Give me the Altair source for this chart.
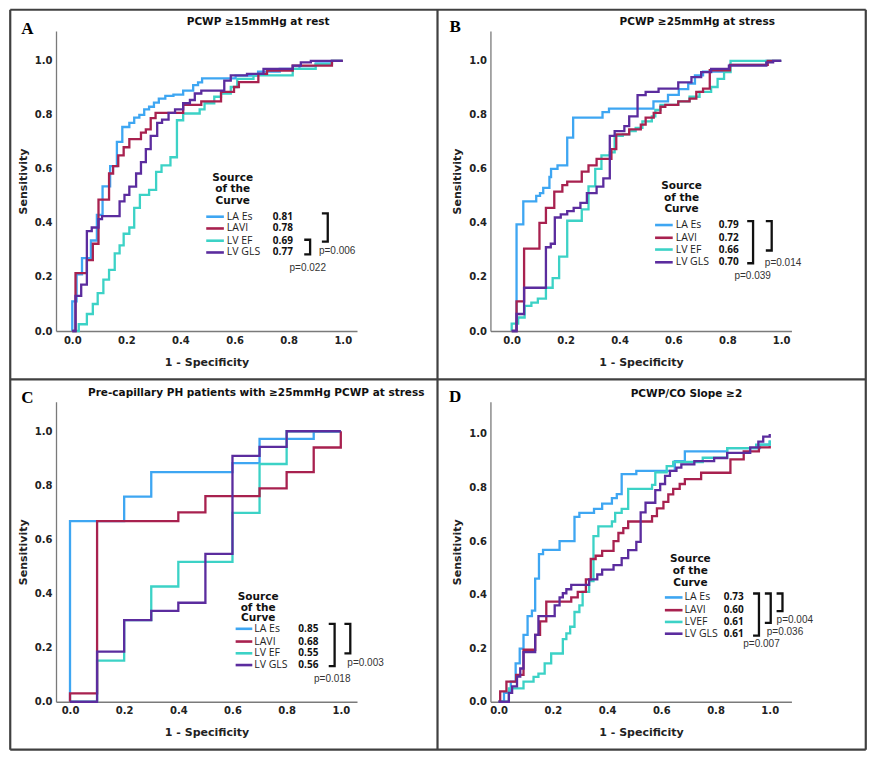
import altair as alt
import pandas as pd

# ---------------- data ----------------
SERIES = ["LA Es", "LAVI", "LV EF", "LV GLS"]
COLORS = ["#3ea6f2", "#a8214f", "#3cd2c6", "#5b2c9e"]
DRAW_ORDER = ["LA Es", "LV EF", "LAVI", "LV GLS"]
TICKS = [0.0, 0.2, 0.4, 0.6, 0.8, 1.0]

# Panel A : PCWP >=15 at rest
A_LAES_X = [0, 0, 0.016, 0.036, 0.069, 0.091, 0.112, 0.14, 0.165, 0.185, 0.211, 0.229, 0.248, 0.266, 0.284, 0.302, 0.32, 0.344, 0.374, 0.41, 0.447, 0.465, 0.48, 0.604, 0.687, 0.767, 0.84, 0.9, 0.96, 1.0]
A_LAES_Y = [0, 0.11, 0.21, 0.27, 0.335, 0.43, 0.535, 0.61, 0.70, 0.755, 0.77, 0.79, 0.80, 0.82, 0.83, 0.845, 0.86, 0.87, 0.875, 0.89, 0.91, 0.92, 0.935, 0.945, 0.96, 0.97, 0.98, 0.99, 1.0, 1.0]
A_LAVI_X = [0, 0.012, 0.054, 0.076, 0.097, 0.136, 0.151, 0.17, 0.19, 0.211, 0.254, 0.272, 0.29, 0.308, 0.41, 0.477, 0.55, 0.598, 0.616, 0.688, 0.72, 0.815, 0.96, 1.0]
A_LAVI_Y = [0, 0.214, 0.262, 0.323, 0.486, 0.583, 0.61, 0.65, 0.68, 0.71, 0.734, 0.746, 0.788, 0.807, 0.837, 0.85, 0.885, 0.903, 0.921, 0.952, 0.964, 0.982, 1.0, 1.0]
A_LVEF_X = [0, 0.024, 0.054, 0.076, 0.094, 0.115, 0.136, 0.157, 0.175, 0.19, 0.211, 0.229, 0.25, 0.284, 0.31, 0.33, 0.363, 0.387, 0.41, 0.471, 0.489, 0.525, 0.55, 0.586, 0.61, 0.67, 0.815, 0.9, 0.96, 1.0]
A_LVEF_Y = [0, 0.025, 0.063, 0.1, 0.14, 0.19, 0.226, 0.287, 0.317, 0.36, 0.383, 0.456, 0.504, 0.522, 0.589, 0.613, 0.643, 0.78, 0.805, 0.82, 0.843, 0.867, 0.879, 0.903, 0.933, 0.946, 0.97, 0.988, 1.0, 1.0]
A_LVGLS_X = [0, 0.012, 0.033, 0.054, 0.072, 0.097, 0.11, 0.175, 0.193, 0.211, 0.236, 0.254, 0.272, 0.29, 0.314, 0.332, 0.356, 0.38, 0.41, 0.435, 0.453, 0.477, 0.562, 0.586, 0.646, 0.707, 0.815, 0.845, 0.882, 1.0]
A_LVGLS_Y = [0, 0.13, 0.172, 0.37, 0.383, 0.414, 0.425, 0.48, 0.504, 0.534, 0.583, 0.625, 0.673, 0.722, 0.77, 0.782, 0.807, 0.82, 0.843, 0.855, 0.879, 0.89, 0.927, 0.946, 0.952, 0.97, 0.982, 0.994, 1.0, 1.0]

# Panel B : PCWP >=25 at stress
B_LAES_X = [0, 0.018, 0.043, 0.091, 0.105, 0.117, 0.14, 0.146, 0.17, 0.206, 0.228, 0.337, 0.361, 0.526, 0.58, 0.62, 0.655, 0.68, 0.71, 0.81, 0.945, 1.0]
B_LAES_Y = [0, 0.395, 0.48, 0.50, 0.51, 0.53, 0.57, 0.60, 0.613, 0.716, 0.79, 0.81, 0.823, 0.85, 0.874, 0.895, 0.916, 0.946, 0.96, 0.985, 1.0, 1.0]
B_LAVI_X = [0, 0.018, 0.046, 0.103, 0.127, 0.158, 0.188, 0.206, 0.26, 0.285, 0.315, 0.37, 0.388, 0.436, 0.479, 0.497, 0.527, 0.552, 0.57, 0.618, 0.66, 0.685, 0.71, 0.735, 0.81, 0.95, 1.0]
B_LAVI_Y = [0, 0.11, 0.305, 0.40, 0.456, 0.516, 0.54, 0.553, 0.59, 0.613, 0.637, 0.673, 0.728, 0.746, 0.764, 0.79, 0.807, 0.83, 0.837, 0.85, 0.86, 0.885, 0.897, 0.965, 0.985, 1.0, 1.0]
B_LVEF_X = [0, 0, 0.024, 0.048, 0.073, 0.097, 0.127, 0.152, 0.176, 0.206, 0.26, 0.285, 0.31, 0.333, 0.364, 0.382, 0.412, 0.436, 0.46, 0.485, 0.52, 0.533, 0.552, 0.618, 0.66, 0.697, 0.74, 0.764, 0.788, 0.812, 1.0]
B_LVEF_Y = [0, 0.027, 0.05, 0.093, 0.105, 0.12, 0.16, 0.196, 0.275, 0.408, 0.45, 0.535, 0.6, 0.65, 0.661, 0.722, 0.728, 0.74, 0.752, 0.776, 0.794, 0.818, 0.837, 0.85, 0.867, 0.885, 0.903, 0.933, 0.958, 1.0, 1.0]
B_LVGLS_X = [0, 0.018, 0.046, 0.127, 0.145, 0.16, 0.182, 0.206, 0.23, 0.255, 0.279, 0.315, 0.34, 0.364, 0.382, 0.418, 0.436, 0.467, 0.497, 0.545, 0.618, 0.667, 0.703, 0.74, 0.806, 0.945, 0.97, 1.0]
B_LVGLS_Y = [0, 0.063, 0.16, 0.31, 0.323, 0.42, 0.432, 0.444, 0.456, 0.474, 0.51, 0.534, 0.565, 0.722, 0.74, 0.758, 0.794, 0.873, 0.885, 0.897, 0.92, 0.94, 0.958, 0.97, 0.982, 0.994, 1.0, 1.0]

# Panel C : pre-capillary PH
C_LAES_X = [0, 0, 0.2, 0.3, 0.6, 0.7, 0.9, 1.0]
C_LAES_Y = [0, 0.668, 0.758, 0.849, 0.882, 0.972, 1.0, 1.0]
C_LAVI_X = [0, 0, 0.1, 0.4, 0.5, 0.7, 0.8, 0.9, 1.0]
C_LAVI_Y = [0, 0.031, 0.668, 0.70, 0.76, 0.789, 0.849, 0.94, 1.0]
C_LVEF_X = [0, 0.1, 0.2, 0.3, 0.4, 0.6, 0.7, 0.8, 1.0]
C_LVEF_Y = [0, 0.152, 0.302, 0.426, 0.517, 0.698, 0.879, 1.0, 1.0]
C_LVGLS_X = [0, 0.1, 0.2, 0.3, 0.4, 0.5, 0.6, 0.7, 0.8, 1.0]
C_LVGLS_Y = [0, 0.185, 0.302, 0.336, 0.366, 0.547, 0.909, 0.942, 1.0, 1.0]

# Panel D : PCWP/CO slope >=2
D_LAES_X = [0, 0.02, 0.045, 0.063, 0.078, 0.092, 0.107, 0.123, 0.135, 0.149, 0.164, 0.225, 0.28, 0.298, 0.352, 0.382, 0.418, 0.436, 0.454, 0.508, 0.65, 0.687, 0.843, 0.964, 1.0]
D_LAES_Y = [0, 0.033, 0.075, 0.143, 0.198, 0.25, 0.32, 0.34, 0.46, 0.551, 0.567, 0.60, 0.69, 0.705, 0.72, 0.74, 0.76, 0.775, 0.85, 0.862, 0.898, 0.935, 0.947, 0.96, 0.975]
D_LAVI_X = [0, 0.006, 0.029, 0.065, 0.092, 0.135, 0.153, 0.176, 0.268, 0.292, 0.322, 0.34, 0.358, 0.382, 0.424, 0.442, 0.46, 0.478, 0.566, 0.584, 0.608, 0.626, 0.644, 0.668, 0.687, 0.747, 0.855, 0.904, 0.96, 1.0]
D_LAVI_Y = [0, 0.039, 0.075, 0.10, 0.194, 0.25, 0.30, 0.374, 0.39, 0.41, 0.457, 0.533, 0.545, 0.563, 0.60, 0.63, 0.648, 0.673, 0.693, 0.722, 0.746, 0.774, 0.795, 0.813, 0.831, 0.855, 0.905, 0.935, 0.95, 0.955]
D_LVEF_X = [0, 0.038, 0.092, 0.129, 0.147, 0.17, 0.194, 0.237, 0.25, 0.264, 0.28, 0.298, 0.31, 0.334, 0.35, 0.368, 0.418, 0.43, 0.454, 0.478, 0.566, 0.578, 0.62, 0.644, 0.753, 0.843, 0.95, 1.0]
D_LVEF_Y = [0, 0.05, 0.075, 0.093, 0.105, 0.143, 0.18, 0.234, 0.255, 0.28, 0.335, 0.36, 0.41, 0.45, 0.618, 0.655, 0.673, 0.705, 0.72, 0.795, 0.81, 0.856, 0.88, 0.895, 0.911, 0.947, 0.96, 0.975]
D_LVGLS_X = [0, 0.038, 0.05, 0.068, 0.08, 0.092, 0.135, 0.147, 0.207, 0.225, 0.237, 0.25, 0.268, 0.334, 0.364, 0.382, 0.424, 0.454, 0.478, 0.508, 0.524, 0.542, 0.578, 0.596, 0.614, 0.632, 0.656, 0.674, 0.722, 0.795, 0.843, 0.928, 0.958, 0.976, 1.0]
D_LVGLS_Y = [0, 0.033, 0.057, 0.094, 0.124, 0.185, 0.25, 0.32, 0.36, 0.39, 0.405, 0.42, 0.436, 0.457, 0.475, 0.493, 0.51, 0.536, 0.566, 0.597, 0.707, 0.743, 0.79, 0.813, 0.843, 0.862, 0.874, 0.886, 0.898, 0.91, 0.929, 0.95, 0.971, 0.99, 1.0]

TITLES = {
    "A": "PCWP \u226515mmHg at rest",
    "B": "PCWP \u226525mmHg at stress",
    "C": "Pre-capillary PH patients with \u226525mmHg PCWP at stress",
    "D": "PCWP/CO Slope \u22652",
}
LEGEND_TITLE = ["Source", "of the", "Curve"]
LABELS = {
    "A": ["LA Es", "LAVI", "LV EF", "LV GLS"],
    "B": ["LA Es", "LAVI", "LV EF", "LV GLS"],
    "C": ["LA Es", "LAVI", "LV EF", "LV GLS"],
    "D": ["LA Es", "LAVI", "LVEF", "LV GLS"],
}
AUC = {
    "A": ["0.81", "0.78", "0.69", "0.77"],
    "B": ["0.79", "0.72", "0.66", "0.70"],
    "C": ["0.85", "0.68", "0.55", "0.56"],
    "D": ["0.73", "0.60", "0.61", "0.61"],
}
PVALS = {
    "A": ["p=0.006", "p=0.022"],
    "B": ["p=0.014", "p=0.039"],
    "C": ["p=0.003", "p=0.018"],
    "D": ["p=0.004", "p=0.036", "p=0.007"],
}
CURVES = {
    "A": {"LA Es": (A_LAES_X, A_LAES_Y), "LAVI": (A_LAVI_X, A_LAVI_Y), "LV EF": (A_LVEF_X, A_LVEF_Y), "LV GLS": (A_LVGLS_X, A_LVGLS_Y)},
    "B": {"LA Es": (B_LAES_X, B_LAES_Y), "LAVI": (B_LAVI_X, B_LAVI_Y), "LV EF": (B_LVEF_X, B_LVEF_Y), "LV GLS": (B_LVGLS_X, B_LVGLS_Y)},
    "C": {"LA Es": (C_LAES_X, C_LAES_Y), "LAVI": (C_LAVI_X, C_LAVI_Y), "LV EF": (C_LVEF_X, C_LVEF_Y), "LV GLS": (C_LVGLS_X, C_LVGLS_Y)},
    "D": {"LA Es": (D_LAES_X, D_LAES_Y), "LAVI": (D_LAVI_X, D_LAVI_Y), "LV EF": (D_LVEF_X, D_LVEF_Y), "LV GLS": (D_LVGLS_X, D_LVGLS_Y)},
}

# ---------------- layout (reference pixel geometry) ----------------
S = 0.98
W, H = 301, 300
GEOM_REF = {
    "A": dict(left=51.7, top=25.0, x0=68.3, kx=276.0, ky=275.7),
    "B": dict(left=495.0, top=25.0, x0=516.7, kx=275.0, ky=275.7),
    "C": dict(left=51.7, top=403.3, x0=66.0, kx=276.3, ky=276.0),
    "D": dict(left=495.0, top=403.3, x0=503.3, kx=276.7, ky=273.3),
}
COL_SP = (495.0 - 51.7) * S - W
ROW_SP = (403.3 - 25.0) * S - H

LAYOUT = {
    "A": dict(letter=(22.5, 23), title=(258, 16), lt=(232, [175, 186.5, 198]), sw=(205, 223),
              rows=[214.5, 226.5, 239, 251], lab=226, val=273,
              br=[(329, 211, 240), (311, 238, 253)], pt=[(320, 249.5), (290, 267)]),
    "B": dict(letter=(459, 21), title=(706, 16), lt=(690, [183, 195, 207]), sw=(663, 681),
              rows=[223, 236, 248, 261], lab=684, val=728,
              br=[(782, 219, 249), (763, 219, 262)], pt=[(775, 262), (744, 275)]),
    "C": dict(letter=(22.5, 399), title=(256, 394), lt=(258, [603, 613.5, 624]), sw=(235, 252),
              rows=[635, 648, 660, 672], lab=254, val=299,
              br=[(352, 630, 660), (336, 630, 673)], pt=[(349, 670), (315, 686)]),
    "D": dict(letter=(459, 398), title=(695, 395), lt=(699, [564, 576, 588]), sw=(673, 691),
              rows=[603, 616, 628, 640], lab=693, val=733,
              br=[(793, 599, 617), (781, 599, 629), (769, 599, 642)], pt=[(787, 626), (777, 638), (753, 651)]),
}
FRAME = [(5, 3.3, 878, 3.3), (5, 758.3, 878, 758.3), (5, 3.3, 5, 758.3),
         (878, 3.3, 878, 758.3), (441, 3.3, 441, 758.3), (5, 380.5, 878, 380.5)]
TICK_LEN = 6

COLOR = alt.Color("series:N", scale=alt.Scale(domain=SERIES, range=COLORS), legend=None)


def build_panel(key):
    g = GEOM_REF[key]
    xmin = (g["left"] - g["x0"]) / g["kx"]
    xmax = xmin + W / (g["kx"] * S)
    ymax = H / (g["ky"] * S)
    ybase = g["top"] + H / S
    px = lambda X: (X - g["x0"]) / g["kx"]
    py = lambda Y: (ybase - Y) / g["ky"]

    xs = alt.Scale(domain=[xmin, xmax], nice=False, zero=False)
    ys = alt.Scale(domain=[0.0, ymax], nice=False, zero=False)
    xax = alt.Axis(values=TICKS, format=".1f", title="1 - Specificity", titlePadding=11)
    yax = alt.Axis(values=TICKS, format=".1f", title="Sensitivity", titlePadding=6)
    X = lambda f: alt.X(f"{f}:Q", scale=xs, axis=xax)
    Y = lambda f: alt.Y(f"{f}:Q", scale=ys, axis=yax)

    lay = LAYOUT[key]
    layers = []

    if key == "A":
        fr = pd.DataFrame({"x": [px(a) for a, b, c, d in FRAME], "y": [py(b) for a, b, c, d in FRAME],
                           "x2": [px(c) for a, b, c, d in FRAME], "y2": [py(d) for a, b, c, d in FRAME]})
        layers.append(alt.Chart(fr).mark_rule(color="#404040", strokeWidth=2.2)
                      .encode(x=X("x"), y=Y("y"), x2="x2:Q", y2="y2:Q"))

    for s in DRAW_ORDER:
        cx, cy = CURVES[key][s]
        df = pd.DataFrame({"x": cx, "y": cy, "i": list(range(len(cx))), "series": s})
        layers.append(alt.Chart(df).mark_line(interpolate="step-after", strokeWidth=2.3, strokeJoin="miter")
                      .encode(x=X("x"), y=Y("y"), order="i:Q", color=COLOR))

    # legend swatches
    sw = pd.DataFrame({"x": [px(lay["sw"][0])] * 4, "x2": [px(lay["sw"][1])] * 4,
                       "y": [py(r) for r in lay["rows"]], "series": SERIES})
    layers.append(alt.Chart(sw).mark_rule(strokeWidth=2.6).encode(x=X("x"), x2="x2:Q", y=Y("y"), color=COLOR))

    def text(df, **kw):
        return alt.Chart(df).mark_text(baseline="middle", **kw).encode(x=X("x"), y=Y("y"), text="t:N")

    lab = pd.DataFrame({"x": [px(lay["lab"])] * 4, "y": [py(r) for r in lay["rows"]], "t": LABELS[key]})
    layers.append(text(lab, align="left", font="Open Sans", fontSize=10.5, color="#222"))
    val = pd.DataFrame({"x": [px(lay["val"])] * 4, "y": [py(r) for r in lay["rows"]], "t": AUC[key]})
    layers.append(text(val, align="left", font="Open Sans", fontSize=10, fontWeight="bold", color="#111"))
    lt = pd.DataFrame({"x": [px(lay["lt"][0])] * 3, "y": [py(v) for v in lay["lt"][1]], "t": LEGEND_TITLE})
    layers.append(text(lt, align="center", font="DejaVu Sans", fontSize=10.5, fontWeight="bold", color="#111"))

    # brackets
    bx, by, bb, bi = [], [], [], []
    for n, (xr, yt, yb) in enumerate(lay["br"]):
        for i, (a, b) in enumerate([(xr - TICK_LEN, yt), (xr, yt), (xr, yb), (xr - TICK_LEN, yb)]):
            bx.append(px(a)); by.append(py(b)); bb.append(n); bi.append(i)
    br = pd.DataFrame({"x": bx, "y": by, "b": bb, "i": bi})
    layers.append(alt.Chart(br).mark_line(color="#111", strokeWidth=2.3, strokeJoin="miter")
                  .encode(x=X("x"), y=Y("y"), detail="b:N", order="i:Q"))

    pt = pd.DataFrame({"x": [px(a) for a, b in lay["pt"]], "y": [py(b) for a, b in lay["pt"]], "t": PVALS[key]})
    layers.append(text(pt, align="left", font="Liberation Sans", fontSize=10, color="#333"))

    ti = pd.DataFrame({"x": [px(lay["title"][0])], "y": [py(lay["title"][1])], "t": [TITLES[key]]})
    layers.append(text(ti, align="center", font="DejaVu Sans", fontSize=10.5, fontWeight="bold", color="#111"))
    le = pd.DataFrame({"x": [px(lay["letter"][0])], "y": [py(lay["letter"][1])], "t": [key]})
    layers.append(text(le, align="center", font="Liberation Serif", fontSize=17, fontWeight="bold", color="#000"))

    return alt.layer(*layers).properties(width=W, height=H)


panels = [build_panel(k) for k in ["A", "B", "C", "D"]]

chart = (
    alt.ConcatChart(concat=panels, columns=2, spacing={"row": ROW_SP, "column": COL_SP},
                    bounds="flush", padding=0, background="white")
    .resolve_scale(x="independent", y="independent")
    .configure_view(stroke="transparent")
    .configure_axis(domainColor="#7a7a7a", domainWidth=1.3, ticks=False, tickSize=0, grid=False,
                    labelFont="DejaVu Sans", labelFontSize=10, labelFontWeight="bold", labelColor="#222",
                    labelPadding=4, labelFlush=False, labelOverlap=False,
                    titleFont="DejaVu Sans", titleFontSize=11, titleFontWeight="bold", titleColor="#222")
)

chart.save("out.html", embed_options={"renderer": "svg", "actions": False})
